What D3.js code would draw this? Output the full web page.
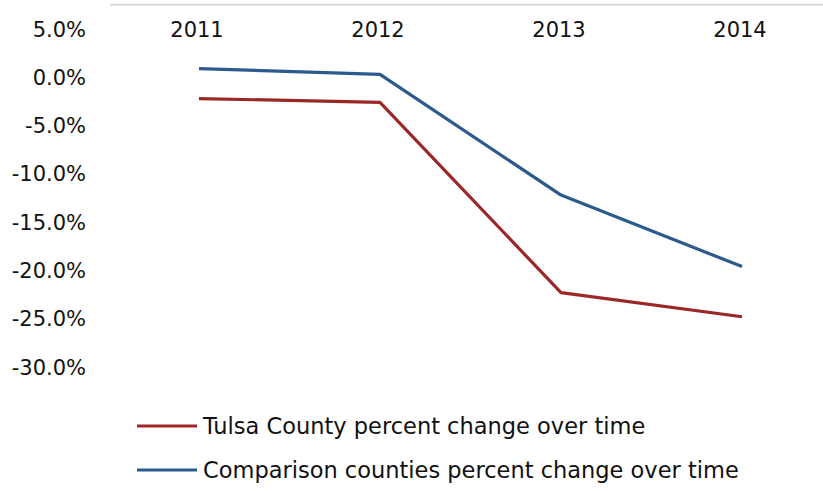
<!DOCTYPE html>
<html>
<head>
<meta charset="utf-8">
<script src="https://d3js.org/d3.v7.min.js"></script>
<style>
  body { margin: 0; background: #fff; }
  text { font-family: "DejaVu Sans", sans-serif; fill: #111; }
</style>
</head>
<body>
<svg id="chart"></svg>
<script>
// data (percent change)
var years = ["2011", "2012", "2013", "2014"];
var tulsa = [-2.2, -2.6, -22.3, -24.8];
var comparison = [0.9, 0.3, -12.2, -19.6];
var yTicks = [5, 0, -5, -10, -15, -20, -25, -30];
var seriesNames = ["Tulsa County percent change over time", "Comparison counties percent change over time"];
var seriesColors = ["#9b2727", "#2d5a8e"];

var width = 823, height = 491;

var svg = d3.select("#chart")
    .attr("width", width)
    .attr("height", height);

// category band: 2011..2014 centred in bands of ~181px
var x = d3.scalePoint().domain(years).range([199, 742]);
var y = d3.scaleLinear().domain([5, -30]).range([29, 367]);

// horizontal (category) axis line along the top
svg.append("line")
    .attr("x1", 110).attr("x2", width)
    .attr("y1", y(7.5)).attr("y2", y(7.5))
    .attr("stroke", "#d9d9d9")
    .attr("stroke-width", 2);

// year labels
svg.selectAll(".year")
    .data(years)
    .enter().append("text")
    .attr("class", "year")
    .attr("x", function(d) { return x(d) - 2; })
    .attr("y", 37)
    .attr("text-anchor", "middle")
    .style("font-size", "21px")
    .text(function(d) { return d; });

// y tick labels (plain hyphen minus like the original)
svg.selectAll(".ytick")
    .data(yTicks)
    .enter().append("text")
    .attr("class", "ytick")
    .attr("x", 86)
    .attr("y", function(d) { return y(d); })
    .attr("dy", "0.36em")
    .attr("text-anchor", "end")
    .style("font-size", "21px")
    .text(function(d) { return d.toFixed(1) + "%"; });

var line = d3.line()
    .x(function(d, i) { return x(years[i]); })
    .y(function(d) { return y(d); });

[tulsa, comparison].forEach(function(s, i) {
  svg.append("path")
      .datum(s)
      .attr("d", line)
      .attr("fill", "none")
      .attr("stroke", seriesColors[i])
      .attr("stroke-width", 3.2)
      .attr("stroke-linejoin", "round");
});

// legend
var legend = svg.selectAll(".legend")
    .data(seriesNames)
    .enter().append("g")
    .attr("class", "legend")
    .attr("transform", function(d, i) { return "translate(137," + (426 + i * 44) + ")"; });

legend.append("line")
    .attr("x1", 0).attr("x2", 60)
    .attr("stroke", function(d, i) { return seriesColors[i]; })
    .attr("stroke-width", 3);

legend.append("text")
    .attr("x", 66)
    .attr("dy", "0.36em")
    .style("font-size", "22.5px")
    .text(function(d) { return d; });
</script>
</body>
</html>
